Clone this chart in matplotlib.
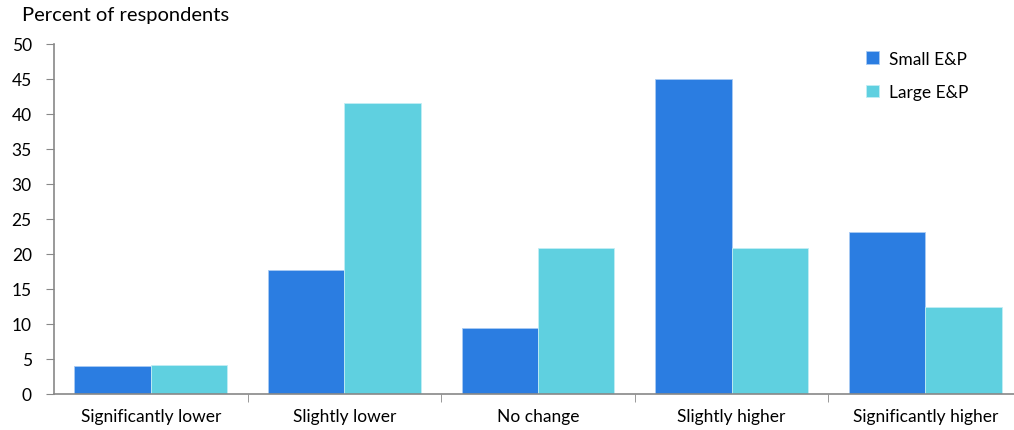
import matplotlib.pyplot as plt
import numpy as np

categories = ['Significantly lower', 'Slightly lower', 'No change', 'Slightly higher', 'Significantly higher']
small_ep = [4.0, 17.7, 9.4, 45.0, 23.1]
large_ep = [4.2, 41.6, 20.8, 20.8, 12.5]

plt.rcParams['font.family'] = ['Lato', 'DejaVu Sans']

fig = plt.figure(figsize=(10.14, 4.31), dpi=100)
ax = fig.add_axes([54 / 1014, 1 - 395 / 431, 960 / 1014, 350 / 431])

x = np.arange(len(categories))
w = 0.395
ax.bar(x - w / 2, small_ep, w, color='#2B7DE1', edgecolor='#A9CBF3', linewidth=0.6, label='Small E&P')
ax.bar(x + w / 2, large_ep, w, color='#5FD0E0', edgecolor='#C2EEF4', linewidth=0.6, label='Large E&P')

ax.set_xlim(-0.5, -0.5 + 960 / 193.6)
ax.set_ylim(0, 50)
ax.set_yticks(range(0, 51, 5))
ax.tick_params(axis='y', labelsize=12.5, length=6, color='#888888', pad=10)
ax.set_xticks(x)
ax.set_xticklabels(categories, fontsize=12.5)
ax.tick_params(axis='x', length=0, pad=10)
ax.set_xticks(np.arange(0.5, 4.5, 1), minor=True)
ax.tick_params(axis='x', which='minor', length=6, color='#888888')

for s in ['top', 'right']:
    ax.spines[s].set_visible(False)
for s in ['left', 'bottom']:
    ax.spines[s].set_color('#888888')
    ax.spines[s].set_linewidth(1.2)

ax.legend(loc='upper left', bbox_to_anchor=(0.83, 1.026), frameon=False, fontsize=12.5,
          handlelength=0.7, handleheight=0.7, labelspacing=1.0, handletextpad=0.6)

fig.text(22 / 1014, 1 - 15 / 431, 'Percent of respondents', fontsize=14.5, va='center', ha='left')

fig.savefig('out.png', dpi=100)
